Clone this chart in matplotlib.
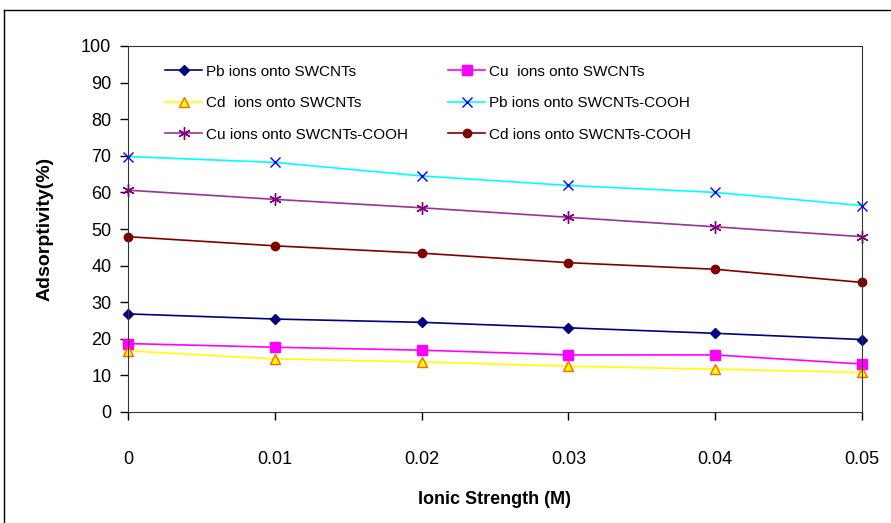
import matplotlib

matplotlib.use("Agg")

import matplotlib.pyplot as plt
from matplotlib.lines import Line2D


ionic_strength = [0, 0.01, 0.02, 0.03, 0.04, 0.05]

pb_swcnt = [26.8, 25.4, 24.5, 23.0, 21.5, 19.8]
cu_swcnt = [18.7, 17.7, 16.9, 15.6, 15.6, 13.1]
cd_swcnt = [16.7, 14.5, 13.7, 12.5, 11.7, 10.8]
pb_cooh = [69.8, 68.2, 64.5, 61.9, 60.0, 56.4]
cu_cooh = [60.6, 58.1, 55.8, 53.2, 50.6, 47.9]
cd_cooh = [47.9, 45.4, 43.4, 40.8, 39.0, 35.4]

labels = [
    "Pb ions onto SWCNTs",
    "Cu  ions onto SWCNTs",
    "Cd  ions onto SWCNTs",
    "Pb ions onto SWCNTs-COOH",
    "Cu ions onto SWCNTs-COOH",
    "Cd ions onto SWCNTs-COOH",
]


def main() -> None:
    plt.rcParams["font.family"] = ["Liberation Sans Narrow", "Liberation Sans", "DejaVu Sans"]

    fig = plt.figure(figsize=(8.91, 5.23), dpi=100)
    ax = fig.add_axes([128 / 891, 111 / 523, 734 / 891, 366 / 523])

    # outer chart frame (top and left edges only are visible)
    fig.add_artist(Line2D([4 / 891, 4 / 891], [0, 1 - 10 / 523], transform=fig.transFigure, color="black", lw=1))
    fig.add_artist(Line2D([4 / 891, 1], [1 - 10 / 523, 1 - 10 / 523], transform=fig.transFigure, color="black", lw=1))

    styles = [
        (pb_swcnt, dict(color="#000080", marker="D", ms=5, mfc="#000080", mec="#000080")),
        (cu_swcnt, dict(color="#FF00FF", marker="s", ms=7, mfc="#FF00FF", mec="#FF00FF")),
        (cd_swcnt, dict(color="#FFFF00", marker="^", ms=7, mfc="#FFFF00", mec="#FF6600")),
        (pb_cooh, dict(color="#00FFFF", marker="x", ms=7, mfc="none", mec="#0000FF", mew=1)),
        (cu_cooh, dict(color="#993399", marker=(6, 2, 0), ms=9, mec="#800080", mew=1)),
        (cd_cooh, dict(color="#800000", marker="o", ms=6, mfc="#800000", mec="#800000")),
    ]
    for (values, style), label in zip(styles, labels):
        ax.plot(ionic_strength, values, lw=1.2, label=label, clip_on=False, **style)

    ax.set_xlim(0, 0.05)
    ax.set_ylim(0, 100)
    ax.set_xticks(ionic_strength)
    ax.set_xticklabels(["0", "0.01", "0.02", "0.03", "0.04", "0.05"])
    ax.set_yticks(range(0, 101, 10))
    ax.tick_params(direction="out", length=6, width=1, labelsize=13)
    ax.tick_params(axis="x", pad=22)
    ax.tick_params(axis="y", pad=6)
    for spine in ax.spines.values():
        spine.set_color("#333333")

    ax.set_xlabel("Ionic Strength (M)", fontsize=13, fontweight="bold", labelpad=17)
    ax.set_ylabel("Adsorptivity(%)", fontsize=14, fontweight="bold", labelpad=20)

    handles, lbls = ax.get_legend_handles_labels()
    order = [0, 2, 4, 1, 3, 5]
    ax.legend(
        [handles[i] for i in order],
        [lbls[i] for i in order],
        ncol=2,
        frameon=False,
        fontsize=11,
        loc="upper left",
        bbox_to_anchor=(0.032, 0.987),
        labelspacing=1.15,
        columnspacing=2.6,
        handlelength=2.4,
        handletextpad=0.3,
    )

    fig.savefig("out.png", dpi=100)
    plt.close(fig)


if __name__ == "__main__":
    main()
